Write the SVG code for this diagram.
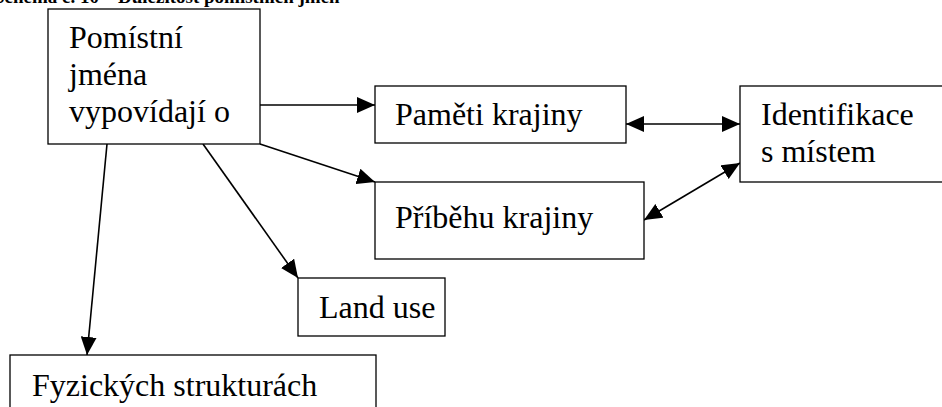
<svg xmlns="http://www.w3.org/2000/svg" width="942" height="407" viewBox="0 0 942 407">
<style>
.box{fill:#fff;stroke:#000;stroke-width:1.3}
.t{font-family:"Liberation Serif","Times New Roman",serif;font-size:32px;fill:#000}
.title{font-family:"Liberation Serif","Times New Roman",serif;font-size:19px;font-weight:bold;fill:#000}
.c{stroke:#000;stroke-width:1.6;fill:none}
</style>
<defs>
<marker id="ah" viewBox="0 0 18 16" refX="18" refY="8" markerWidth="18" markerHeight="16" markerUnits="userSpaceOnUse" orient="auto-start-reverse">
<path d="M0,0 L18,8 L0,16 z" fill="#000"/>
</marker>
</defs>
<rect width="942" height="407" fill="#fff"/>
<text class="title" x="-6" y="3">Schéma č. 10 – Důležitost pomístních jmen</text>
<g id="connectors">
<line class="c" x1="260" y1="105" x2="375" y2="105" marker-end="url(#ah)"/>
<line class="c" x1="260" y1="144" x2="375" y2="182" marker-end="url(#ah)"/>
<line class="c" x1="203" y1="144" x2="298" y2="278" marker-end="url(#ah)"/>
<line class="c" x1="107" y1="144" x2="87" y2="355" marker-end="url(#ah)"/>
<line class="c" x1="626" y1="124" x2="740" y2="124" marker-start="url(#ah)" marker-end="url(#ah)"/>
<line class="c" x1="644" y1="220" x2="740" y2="163" marker-start="url(#ah)" marker-end="url(#ah)"/>
</g>
<g id="n-pomistni">
<rect class="box" x="48" y="9" width="212" height="135"/>
<text class="t" x="69" y="48">Pomístní</text>
<text class="t" x="69" y="85">jména</text>
<text class="t" x="69" y="122">vypovídají o</text>
</g>
<g id="n-pameti">
<rect class="box" x="375" y="86" width="251" height="57"/>
<text class="t" x="395" y="125">Paměti krajiny</text>
</g>
<g id="n-pribehu">
<rect class="box" x="375" y="182" width="269" height="77"/>
<text class="t" x="395" y="228">Příběhu krajiny</text>
</g>
<g id="n-identifikace">
<rect class="box" x="740" y="86" width="210" height="96"/>
<text class="t" x="761" y="125">Identifikace</text>
<text class="t" x="761" y="162">s místem</text>
</g>
<g id="n-landuse">
<rect class="box" x="298" y="278" width="147" height="58"/>
<text class="t" x="319" y="318">Land use</text>
</g>
<g id="n-fyzickych">
<rect class="box" x="10" y="355" width="366" height="70"/>
<text class="t" x="32" y="396">Fyzických strukturách</text>
</g>
</svg>
